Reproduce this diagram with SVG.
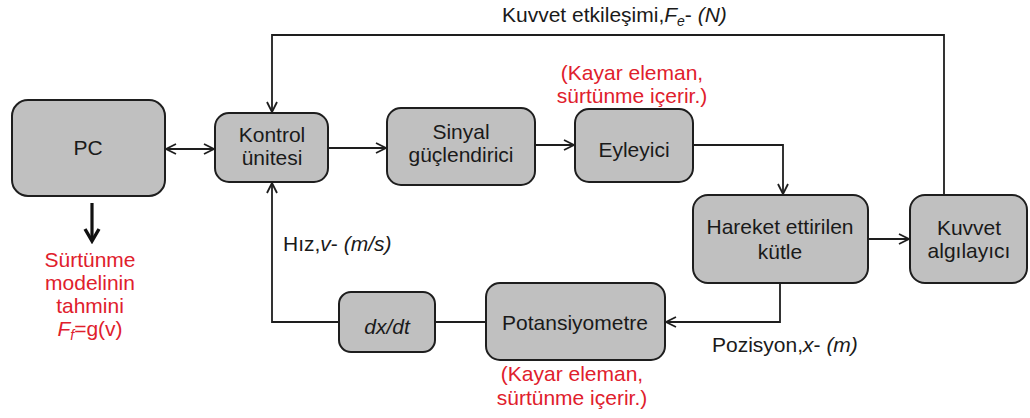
<svg xmlns="http://www.w3.org/2000/svg" width="1030" height="418" viewBox="0 0 1030 418">
  <style>
    .box { fill: #c0c0c0; stroke: #1e1e1e; stroke-width: 2; }
    .lbl { font-family: "Liberation Sans", Arial, sans-serif; font-size: 21px; fill: #1a1a1a; text-anchor: middle; }
    .edge { font-family: "Liberation Sans", Arial, sans-serif; font-size: 21px; fill: #1a1a1a; }
    .red { font-family: "Liberation Sans", Arial, sans-serif; font-size: 21px; fill: #e0202c; text-anchor: middle; }
    .wire { fill: none; stroke: #1e1e1e; stroke-width: 1.8; }
    .thick { fill: none; stroke: #111; stroke-width: 3.2; }
  </style>
  <defs>
    <marker id="arr" viewBox="0 0 12 12" refX="11" refY="6" markerWidth="12" markerHeight="12" markerUnits="userSpaceOnUse" orient="auto-start-reverse">
      <path d="M1,1 L11,6 L1,11" fill="none" stroke="#1e1e1e" stroke-width="1.8"/>
    </marker>
    <marker id="arrBold" viewBox="0 0 18 18" refX="15" refY="9" markerWidth="18" markerHeight="18" markerUnits="userSpaceOnUse" orient="auto">
      <path d="M3,2 L15,9 L3,16" fill="none" stroke="#111" stroke-width="3.4"/>
    </marker>
  </defs>

  <rect width="1030" height="418" fill="#ffffff"/>

  <!-- connectors -->
  <g id="connectors">
    <line class="wire" x1="166" y1="149" x2="214" y2="149" marker-start="url(#arr)" marker-end="url(#arr)"/>
    <line class="wire" x1="329" y1="148" x2="386" y2="148" marker-end="url(#arr)"/>
    <line class="wire" x1="536" y1="145" x2="574" y2="145" marker-end="url(#arr)"/>
    <polyline class="wire" points="694,145 783,145 783,194" marker-end="url(#arr)"/>
    <line class="wire" x1="869" y1="239" x2="909" y2="239" marker-end="url(#arr)"/>
    <polyline class="wire" points="944,195 944,35 272,35 272,112" marker-end="url(#arr)"/>
    <polyline class="wire" points="780,284 780,322 666,322" marker-end="url(#arr)"/>
    <line class="wire" x1="486" y1="322" x2="436" y2="322"/>
    <polyline class="wire" points="339,322 272,322 272,183" marker-end="url(#arr)"/>
    <line class="thick" x1="92" y1="203" x2="92" y2="241" marker-end="url(#arrBold)"/>
  </g>

  <!-- connector labels -->
  <g id="edge-labels">
    <text class="edge" x="502" y="22">Kuvvet etkileşimi,<tspan font-style="italic">F</tspan><tspan font-style="italic" font-size="14" dy="4">e</tspan><tspan dy="-4">- </tspan><tspan font-style="italic">(N)</tspan></text>
    <text class="edge" x="283" y="251">Hız,<tspan font-style="italic">v</tspan>- <tspan font-style="italic">(m/s)</tspan></text>
    <text class="edge" x="712" y="352">Pozisyon,<tspan font-style="italic">x</tspan>- <tspan font-style="italic">(m)</tspan></text>
  </g>

  <g id="pc">
    <rect class="box" x="12" y="100" width="153" height="96" rx="16"/>
    <text class="lbl" x="88" y="155">PC</text>
  </g>

  <g id="friction-estimate">
    <text class="red" x="90" y="267">Sürtünme</text>
    <text class="red" x="90" y="290">modelinin</text>
    <text class="red" x="90" y="313">tahmini</text>
    <text class="red" x="90" y="336"><tspan font-style="italic">F</tspan><tspan font-style="italic" font-size="14" dy="4">f</tspan><tspan dy="-4">=g(v)</tspan></text>
  </g>

  <g id="kontrol">
    <rect class="box" x="215" y="113" width="113" height="69" rx="14"/>
    <text class="lbl" x="272" y="142">Kontrol</text>
    <text class="lbl" x="272" y="165">ünitesi</text>
  </g>

  <g id="sinyal">
    <rect class="box" x="387" y="108" width="148" height="77" rx="14"/>
    <text class="lbl" x="461" y="139">Sinyal</text>
    <text class="lbl" x="461" y="162">güçlendirici</text>
  </g>

  <g id="eyleyici">
    <rect class="box" x="575" y="109" width="118" height="73" rx="14"/>
    <text class="lbl" x="634" y="157">Eyleyici</text>
    <text class="red" x="632" y="80">(Kayar eleman,</text>
    <text class="red" x="632" y="103">sürtünme içerir.)</text>
  </g>

  <g id="hareket">
    <rect class="box" x="693" y="195" width="175" height="88" rx="15"/>
    <text class="lbl" x="780" y="234">Hareket ettirilen</text>
    <text class="lbl" x="780" y="259">kütle</text>
  </g>

  <g id="kuvvet">
    <rect class="box" x="910" y="195" width="117" height="88" rx="15"/>
    <text class="lbl" x="969" y="235">Kuvvet</text>
    <text class="lbl" x="969" y="258">algılayıcı</text>
  </g>

  <g id="potansiyometre">
    <rect class="box" x="486" y="283" width="179" height="77" rx="14"/>
    <text class="lbl" x="575" y="330">Potansiyometre</text>
    <text class="red" x="572" y="381">(Kayar eleman,</text>
    <text class="red" x="572" y="405">sürtünme içerir.)</text>
  </g>

  <g id="dxdt">
    <rect class="box" x="339" y="292" width="96" height="60" rx="12"/>
    <text class="lbl" x="387" y="334" font-style="italic">dx/dt</text>
  </g>
</svg>
